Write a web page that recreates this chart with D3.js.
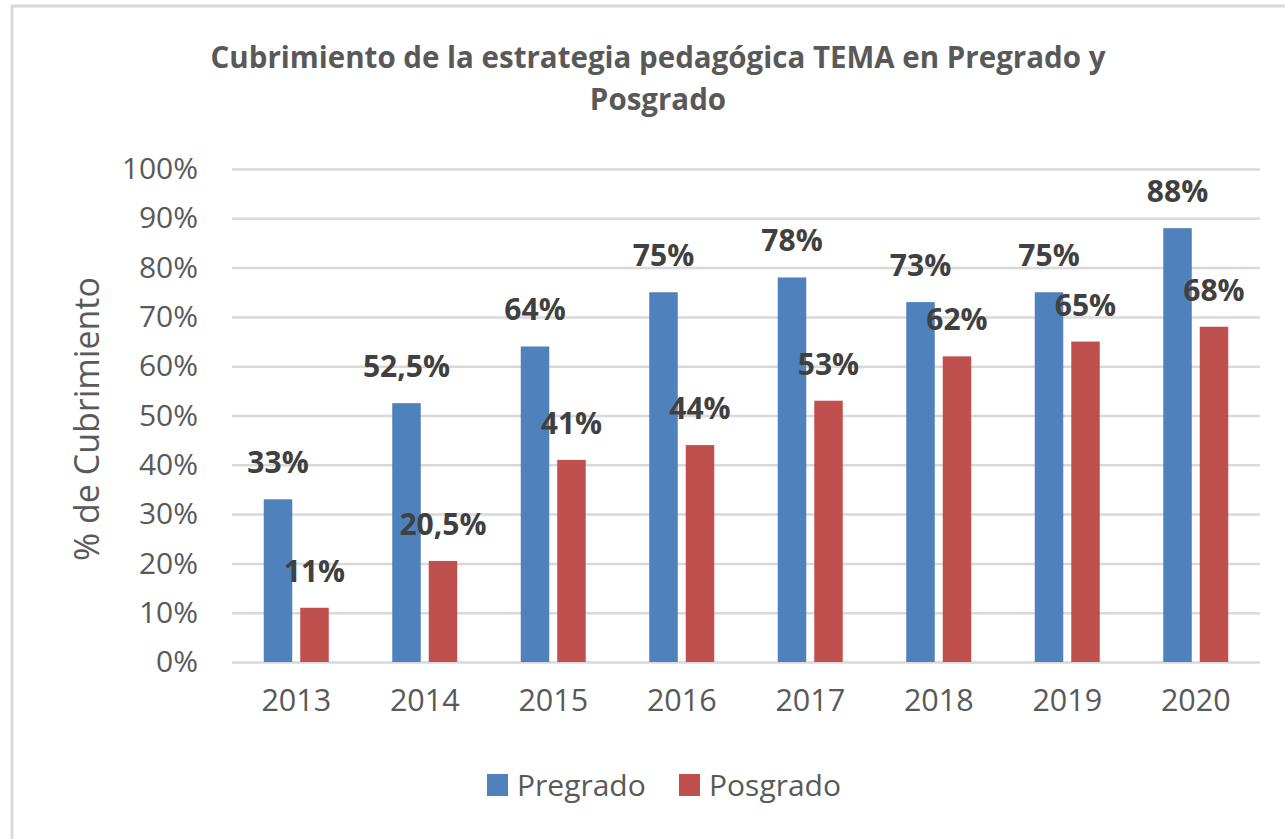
<!DOCTYPE html>
<html>
<head>
<meta charset="utf-8">
<script src="https://cdn.jsdelivr.net/npm/d3@7"></script>
<style>
  body { margin: 0; background: #fff; }
  text { font-family: "Open Sans", sans-serif; }
</style>
</head>
<body>
<div id="chart"></div>
<script>
var years = ["2013", "2014", "2015", "2016", "2017", "2018", "2019", "2020"];
var series = ["Pregrado", "Posgrado"];
var pregrado = [33, 52.5, 64, 75, 78, 73, 75, 88];
var posgrado = [11, 20.5, 41, 44, 53, 62, 65, 68];
var yTicks = [0, 10, 20, 30, 40, 50, 60, 70, 80, 90, 100];
var colors = ["#4f81bd", "#c0504d"];

var W = 1285, H = 839;
var margin = {top: 169, right: 25, bottom: 177, left: 232},
    width = W - margin.left - margin.right,
    height = H - margin.top - margin.bottom;

var svg = d3.select("#chart")
  .append("svg")
  .attr("width", W)
  .attr("height", H);

// outer frame (only left/top visible in the picture)
svg.append("rect")
  .attr("x", 12).attr("y", 6)
  .attr("width", 1300).attr("height", 860)
  .attr("fill", "none")
  .attr("stroke", "#d9d9d9")
  .attr("stroke-width", 3);

// title
var title = svg.append("text")
  .attr("text-anchor", "middle")
  .attr("font-weight", "bold")
  .attr("font-size", 29.5)
  .attr("fill", "#595959");
title.append("tspan").attr("x", 658).attr("y", 68)
  .text("Cubrimiento de la estrategia pedagógica TEMA en Pregrado y");
title.append("tspan").attr("x", 658).attr("y", 110)
  .text("Posgrado");

var g = svg.append("g")
  .attr("transform", "translate(" + margin.left + "," + margin.top + ")");

var x = d3.scaleBand()
  .domain(years)
  .range([0, width]);

var xSub = d3.scaleBand()
  .domain(series)
  .range([x.bandwidth() / 2 - 32.5, x.bandwidth() / 2 + 32.5])
  .paddingInner(0.219);

var y = d3.scaleLinear()
  .domain([0, 100])
  .range([height, 0]);

// gridlines + y labels
var yAxis = g.append("g")
  .call(d3.axisLeft(y)
    .tickValues(yTicks)
    .tickSize(-width)
    .tickPadding(34)
    .tickFormat(function (d) { return d + "%"; }));
yAxis.select(".domain").remove();
yAxis.selectAll(".tick line")
  .attr("stroke", "#d9d9d9")
  .attr("stroke-width", 2.5);
yAxis.selectAll(".tick text")
  .attr("font-size", 30)
  .attr("fill", "#595959")
  .style("font-family", "'Open Sans', sans-serif");

// x labels
var xAxis = g.append("g")
  .attr("transform", "translate(0," + height + ")")
  .call(d3.axisBottom(x).tickSize(0).tickPadding(27));
xAxis.select(".domain").remove();
xAxis.selectAll(".tick text")
  .attr("font-size", 30.5)
  .attr("fill", "#595959")
  .style("font-family", "'Open Sans', sans-serif");

// y axis title
svg.append("text")
  .attr("transform", "translate(99,419) rotate(-90)")
  .attr("text-anchor", "middle")
  .attr("font-size", 34)
  .attr("fill", "#595959")
  .text("% de Cubrimiento");

var rows = years.map(function (yr, i) {
  return {year: yr, values: [
    {key: "Pregrado", value: pregrado[i]},
    {key: "Posgrado", value: posgrado[i]}
  ]};
});

var groups = g.append("g")
  .selectAll("g")
  .data(rows)
  .enter()
  .append("g")
    .attr("transform", function (d) { return "translate(" + x(d.year) + ",0)"; });

groups.selectAll("rect")
  .data(function (d) { return d.values; })
  .enter()
  .append("rect")
    .attr("x", function (d) { return xSub(d.key); })
    .attr("y", function (d) { return y(d.value); })
    .attr("width", xSub.bandwidth())
    .attr("height", function (d) { return height - y(d.value); })
    .attr("fill", function (d, i) { return colors[i]; });

groups.selectAll("text")
  .data(function (d) { return d.values; })
  .enter()
  .append("text")
    .attr("x", function (d) { return xSub(d.key) + xSub.bandwidth() / 2; })
    .attr("y", function (d) { return y(d.value) - 26; })
    .attr("text-anchor", "middle")
    .attr("font-weight", "bold")
    .attr("font-size", 30)
    .attr("fill", "#404040")
    .text(function (d) { return String(d.value).replace(".", ",") + "%"; });

// legend
var legend = svg.append("g")
  .selectAll("g")
  .data(series)
  .enter()
  .append("g")
    .attr("transform", function (d, i) { return "translate(" + (487 + i * 192) + ",774)"; });
legend.append("rect")
  .attr("width", 21).attr("height", 22)
  .attr("fill", function (d, i) { return colors[i]; });
legend.append("text")
  .attr("x", 30).attr("y", 22)
  .attr("font-size", 30)
  .attr("fill", "#595959")
  .text(function (d) { return d; });
</script>
</body>
</html>
